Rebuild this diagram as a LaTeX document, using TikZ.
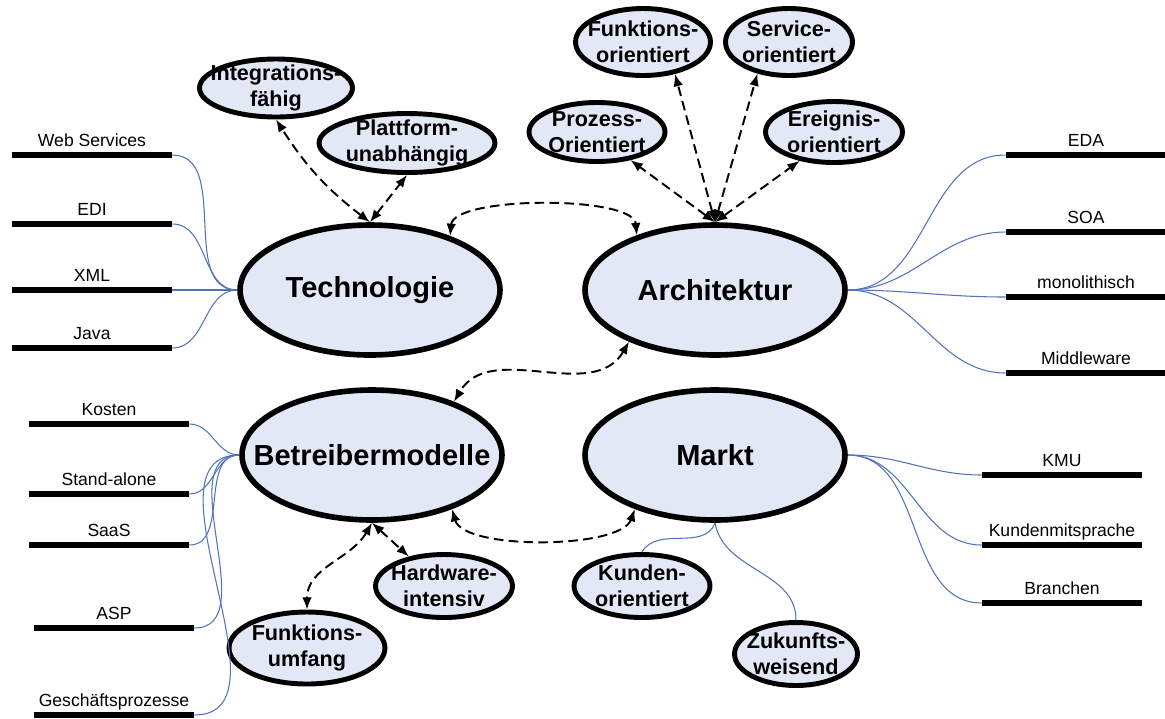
\documentclass[tikz,border=0pt]{standalone}
\usepackage{fontspec}
\setmainfont{Liberation Sans}
\usetikzlibrary{shapes.geometric,arrows.meta}
\definecolor{ovalfill}{RGB}{226,232,245}
\definecolor{linkblue}{RGB}{80,115,185}

\begin{document}
\begin{tikzpicture}[x=0.02cm,y=-0.02cm]

\tikzset{oval/.style={ellipse,draw=black,line width=2.8pt,fill=ovalfill,inner sep=0pt}}
\tikzset{bigoval/.style={oval,line width=3.2pt,minimum width=5.2cm,minimum height=2.6cm}}
\tikzset{ovaltext/.style={align=center,inner sep=0pt,font=\bfseries\fontsize{12.3}{15}\selectfont}}
\tikzset{bigtext/.style={inner sep=0pt,font=\bfseries\fontsize{16.5}{19}\selectfont}}
\tikzset{leaf/.style={anchor=south,minimum width=3.2cm,inner xsep=0pt,inner ysep=4.5pt,text depth=0pt,font=\fontsize{10}{12}\selectfont}}
\tikzset{leafline/.style={line width=3pt}}
\tikzset{link/.style={draw=linkblue,line width=0.6pt}}
\tikzset{rel/.style={<->,>={Latex[length=7pt,width=5.5pt]},line width=1.1pt,dash pattern=on 5.5pt off 3pt}}

\useasboundingbox (0,0) rectangle (1165,718);

\node[bigoval,label={[bigtext]center:Technologie}]      (tech)  at (370,290) {};
\node[bigoval,label={[bigtext]center:Architektur}]      (arch)  at (715,290) {};
\node[bigoval,label={[bigtext]center:Betreibermodelle}] (betr)  at (372,455) {};
\node[bigoval,label={[bigtext]center:Markt}]            (markt) at (715,455) {};

\node[oval,minimum width=3.06cm,minimum height=1.16cm,label={[ovaltext]center:Integrations-\\fähig}]        (integ) at (276,88)  {};
\node[oval,minimum width=3.52cm,minimum height=1.18cm,label={[ovaltext]center:Plattform-\\unabhängig}]      (platt) at (407,143) {};
\node[oval,minimum width=2.70cm,minimum height=1.34cm,label={[ovaltext]center:Funktions-\\orientiert}]      (funk)  at (643,42)  {};
\node[oval,minimum width=2.54cm,minimum height=1.34cm,label={[ovaltext]center:Service-\\orientiert}]        (serv)  at (789,42)  {};
\node[oval,minimum width=2.72cm,minimum height=1.18cm,label={[ovaltext]center:Prozess-\\Orientiert}]        (proz)  at (597,132) {};
\node[oval,minimum width=2.74cm,minimum height=1.22cm,label={[ovaltext]center:Ereignis-\\orientiert}]       (ereig) at (834,132) {};
\node[oval,minimum width=2.74cm,minimum height=1.26cm,label={[ovaltext]center:Hardware-\\intensiv}]         (hard)  at (444,586) {};
\node[oval,minimum width=3.12cm,minimum height=1.44cm,label={[ovaltext]center:Funktions-\\umfang}]          (fumf)  at (307,648) {};
\node[oval,minimum width=2.72cm,minimum height=1.26cm,label={[ovaltext]center:Kunden-\\orientiert}]         (kund)  at (642,586) {};
\node[oval,minimum width=2.46cm,minimum height=1.26cm,label={[ovaltext]center:Zukunfts-\\weisend}]          (zuk)   at (796,654) {};

\node[leaf] (webs)   at (92,155)   {Web Services};
\node[leaf] (edi)    at (92,224)   {EDI};
\node[leaf] (xml)    at (92,290)   {XML};
\node[leaf] (java)   at (92,348)   {Java};
\node[leaf] (kosten) at (109,424)  {Kosten};
\node[leaf] (stand)  at (109,494)  {Stand-alone};
\node[leaf] (saas)   at (109,545)  {SaaS};
\node[leaf] (asp)    at (114,628)  {ASP};
\node[leaf] (gp)     at (114,715)  {Geschäftsprozesse};
\node[leaf] (eda)    at (1086,155) {EDA};
\node[leaf] (soa)    at (1086,232) {SOA};
\node[leaf] (mono)   at (1086,297) {monolithisch};
\node[leaf] (mid)    at (1086,373) {Middleware};
\node[leaf] (kmu)    at (1062,475) {KMU};
\node[leaf] (kmit)   at (1062,545) {Kundenmitsprache};
\node[leaf] (bra)    at (1062,603) {Branchen};

\foreach \n in {webs,edi,xml,java,kosten,stand,saas,asp,gp,eda,soa,mono,mid,kmu,kmit,bra}
  \draw[leafline] (\n.south west) -- (\n.south east);

\foreach \n in {webs,edi,xml,java}
  \draw[link] (\n.south east) to[out=0,in=180] (tech.west);
\foreach \n in {kosten,stand,saas,asp,gp}
  \draw[link] (\n.south east) to[out=0,in=180] (betr.west);
\foreach \n in {eda,soa,mono,mid}
  \draw[link] (arch.east) to[out=0,in=180] (\n.south west);
\foreach \n in {kmu,kmit,bra}
  \draw[link] (markt.east) to[out=0,in=180] (\n.south west);
\draw[link] (markt.south) to[out=250,in=60] (kund.north);
\draw[link] (markt.south) to[out=-80,in=90] (zuk.north);

\draw[rel] (tech.north) to[bend left=10] (integ.south);
\draw[rel] (tech.north) -- (platt.south);
\draw[rel] (tech.34) to[out=85,in=95,looseness=0.55] (arch.145);
\draw[rel] (arch.north) -- (proz.-40);
\draw[rel] (arch.north) -- (funk.-45);
\draw[rel] (arch.north) -- (serv.-135);
\draw[rel] (arch.north) -- (ereig.-140);
\draw[rel] (arch.211) to[out=240,in=60] (betr.33);
\draw[rel] (betr.-34) to[out=-75,in=-110,looseness=0.6] (markt.214);
\draw[rel] (betr.south) -- (hard.140);
\draw[rel] (betr.south) to[out=-120,in=90] (fumf.north);

\end{tikzpicture}
\end{document}
